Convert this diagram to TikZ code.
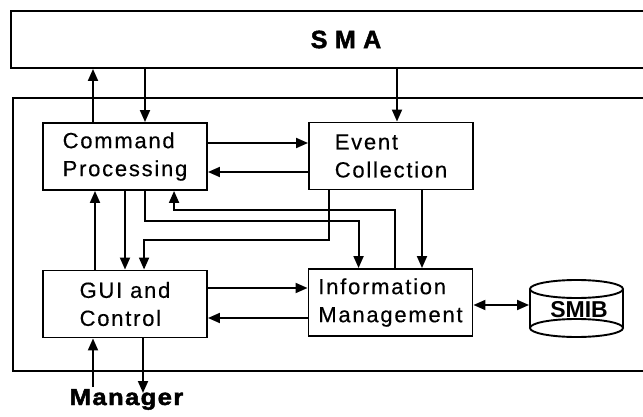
\documentclass[tikz,border=0pt]{standalone}
\usepackage{fontspec}
\setmainfont{Liberation Sans}
\newfontfamily\boxfont[LetterSpace=8,FakeBold=0.4]{Liberation Sans}
\newfontfamily\headfont[LetterSpace=2,FakeBold=1.8]{Liberation Sans Bold}
\usetikzlibrary{arrows.meta}
\begin{document}
\begin{tikzpicture}[x=1pt,y=-1pt,
  line width=1.9pt,
  arr/.style={-{Triangle[length=12pt,width=10pt]}},
  darr/.style={{Triangle[length=12pt,width=10pt]}-{Triangle[length=12pt,width=10pt]}},
  frame/.style={draw,line width=1.9pt,rectangle,inner sep=0pt},
  block/.style={frame,minimum width=164pt,minimum height=67pt,align=left,
    font=\boxfont\fontsize{22}{28}\selectfont}]
\useasboundingbox (0,0) rectangle (643,417);

% system management agent bar and the agent's enclosing frame (open to the right)
\node[frame,minimum width=670pt,minimum height=57pt] (sma) at (346,39.5)
  {\headfont\fontsize{25}{28}\selectfont S M A};
\node[frame,minimum width=670pt,minimum height=273pt] (agent) at (348,234.5) {};

% functional blocks
\node[block] (cmd)  at (125,156.5) {Command\\Processing};
\node[block] (evt)  at (391,156)   {Event\\Collection};
\node[block] (gui)  at (125,304)   {GUI and\\Control};
\node[block] (info) at (390.5,302.5) {Information\\Management};

% SMIB database cylinder
\node[minimum width=93pt,minimum height=57pt,inner sep=0pt] (smib) at (576.5,308.5) {};
\draw (530,289) -- (530,328) (623,289) -- (623,328);
\draw (576.5,289) ellipse [x radius=46.5pt, y radius=9pt];
\draw (576.5,328) ellipse [x radius=46.5pt, y radius=9pt];
\node[font=\bfseries\fontsize{23}{25}\selectfont,anchor=base] (smibtext) at (579,317) {SMIB};

% operator
\node[anchor=base,font=\fontsize{23}{26}\selectfont] (mgr) at (126.5,405)
  {\scalebox{1.12}[1]{\headfont\addfontfeature{LetterSpace=5}Manager}};

% column and row positions of the connectors
\coordinate (xa) at (93,0);
\coordinate (xb) at (145,0);
\coordinate (xc) at (397,0);
\coordinate (xd) at (95,0);
\coordinate (xe) at (125,0);
\coordinate (xf) at (422,0);
\coordinate (ya) at (0,143);
\coordinate (yb) at (0,172);
\coordinate (yc) at (0,288);
\coordinate (yd) at (0,318);
\coordinate (ye) at (0,305);
\coordinate (mgrin) at (93,387);
\coordinate (mgrout) at (143,393);

% links to the SMA bar
\draw[arr] (xa |- cmd.north) -- (xa |- sma.south);
\draw[arr] (xb |- sma.south) -- (xb |- cmd.north);
\draw[arr] (xc |- sma.south) -- (xc |- evt.north);

% command processing <-> event collection
\draw[arr] (cmd.east |- ya) -- (evt.west |- ya);
\draw[arr] (evt.west |- yb) -- (cmd.east |- yb);

% command processing <-> GUI
\draw[arr] (xd |- gui.north) -- (xd |- cmd.south);
\draw[arr] (xe |- cmd.south) -- (xe |- gui.north);

% routed links
\coordinate (p1) at (145,221);
\draw[arr] (p1 |- cmd.south) -- (p1) -| ([xshift=51pt]info.north west);
\coordinate (p2) at (395,210);
\draw[arr] (p2 |- info.north) -- (p2) -| ([xshift=132pt]cmd.south west);
\coordinate (p3) at (329,240);
\draw[arr] (p3 |- evt.south) -- (p3) -| ([xshift=102pt]gui.north west);
\draw[arr] (xf |- evt.south) -- (xf |- info.north);

% GUI <-> information management
\draw[arr] (gui.east |- yc) -- (info.west |- yc);
\draw[arr] (info.west |- yd) -- (gui.east |- yd);

% information management <-> SMIB
\draw[darr] (info.east |- ye) -- (smib.west |- ye);

% manager <-> GUI
\draw[arr] (mgrin) -- (mgrin |- gui.south);
\draw[arr] (mgrout |- gui.south) -- (mgrout);
\end{tikzpicture}
\end{document}
